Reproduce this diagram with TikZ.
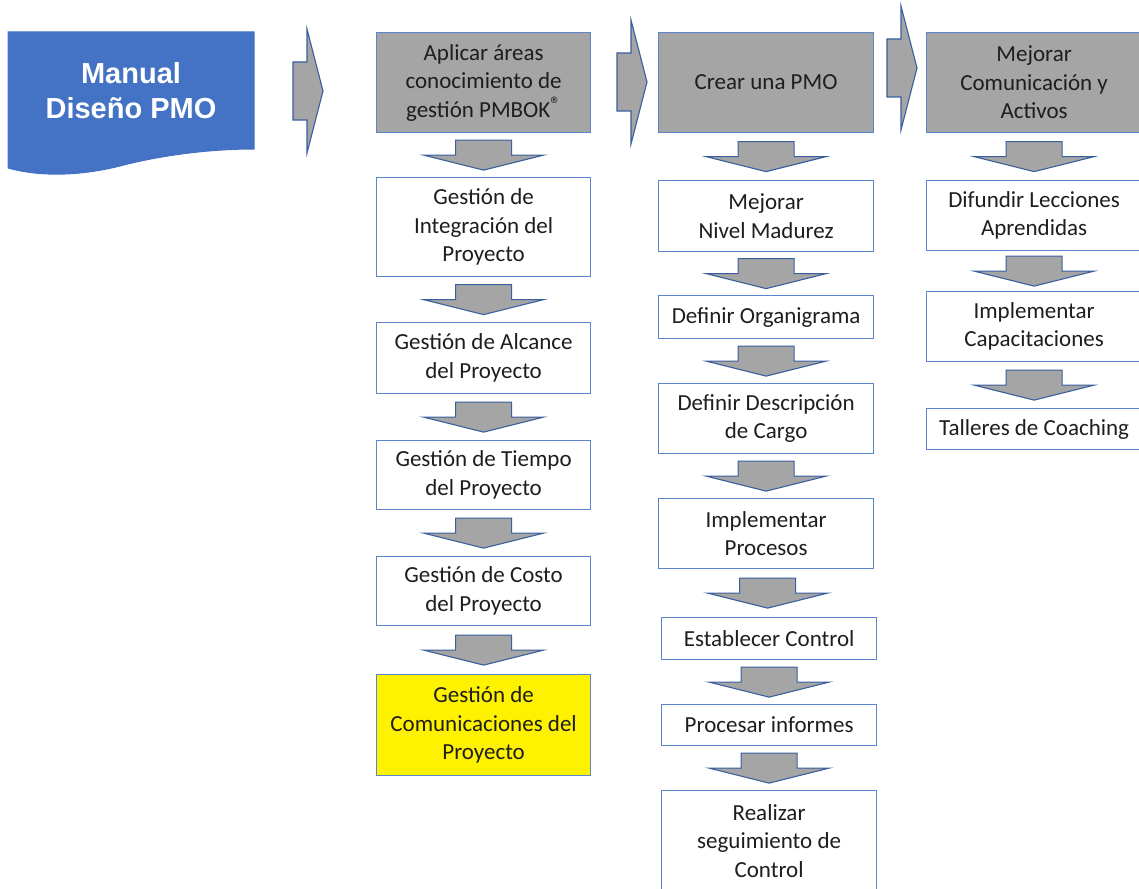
\documentclass[tikz,border=0pt]{standalone}
\usepackage{fontspec}
\setmainfont{Carlito}
\newfontfamily\titulofont{Liberation Sans}
\usetikzlibrary{calc}
\definecolor{azul}{HTML}{4472C4}
\definecolor{borde}{HTML}{5B86CF}
\definecolor{bordeflecha}{HTML}{3A5F9E}
\definecolor{gris}{HTML}{A5A5A5}
\definecolor{texto}{HTML}{1E1E1E}

% block arrow between two boxes of a column
\newcommand{\bajar}[2]{%
  \path ($(#1.south)!0.5!(#2.north)$) coordinate (m);
  \draw[flecha] (m) ++(-28,-15) -- ++(56,0) -- ++(0,15) -- ++(32,0)
    -- ++(-60,15) -- ++(-60,-15) -- ++(32,0) -- cycle;}
% block arrow pointing right, tail centre at (#1,#2)
\newcommand{\derecha}[2]{%
  \draw[flecha] (#1,#2) ++(0,-29) -- ++(14,0) -- ++(0,-33) -- ++(16,62)
    -- ++(-16,62) -- ++(0,-33) -- ++(-14,0) -- cycle;}

\begin{document}
\begin{tikzpicture}[x=1pt, y=-1pt,
    caja/.style={draw=borde, line width=1.2pt, fill=white, anchor=north west,
      inner sep=0pt, align=center, text=texto,
      font=\fontsize{23}{28.5}\selectfont},
    cabeza/.style={caja, fill=gris},
    flecha/.style={draw=bordeflecha, line width=1.1pt, fill=gris, line join=miter}]
    \useasboundingbox (0,0) rectangle (1139,888);
    % Manual
    \draw[fill=azul, draw=azul, line width=1pt] (8,32) -- (254,32) -- (254,149)
      .. controls (200,149) and (150,158) .. (120,166)
      .. controls (80,176) and (40,177) .. (8,168) -- cycle;
    \node (manual) [text=white, align=center,
      font=\titulofont\bfseries\fontsize{29}{35}\selectfont] at (131,91)
      {Manual\\Diseño PMO};
    % Right arrows
    \derecha{293}{91}
    \derecha{617}{82}
    \derecha{887}{68}
    % Column 1
    \node (pmbok) [cabeza, minimum width=214, minimum height=100] at (376,32)
      {Aplicar áreas\\conocimiento de\\gestión PMBOK\raisebox{0.55ex}{\fontsize{21}{21}\selectfont ®}};
    \node (integ) [caja, minimum width=214, minimum height=99] at (376,177)
      {Gestión de\\Integración del\\Proyecto};
    \node (alcance) [caja, minimum width=214, minimum height=71] at (376,322)
      {Gestión de Alcance\\del Proyecto};
    \node (tiempo) [caja, minimum width=214, minimum height=69] at (376,440)
      {Gestión de Tiempo\\del Proyecto};
    \node (costo) [caja, minimum width=214, minimum height=69] at (376,556)
      {Gestión de Costo\\del Proyecto};
    \node (comunic) [caja, fill=yellow, minimum width=214, minimum height=101] at (376,674)
      {Gestión de\\Comunicaciones del\\Proyecto};
    % Column 2
    \node (pmo) [cabeza, minimum width=215, minimum height=100] at (658,32)
      {Crear una PMO};
    \node (madurez) [caja, minimum width=215, minimum height=71] at (658,180)
      {Mejorar\\Nivel Madurez};
    \node (organi) [caja, minimum width=215, minimum height=43] at (658,295)
      {Definir Organigrama};
    \node (cargo) [caja, minimum width=215, minimum height=70] at (658,383)
      {Definir Descripción\\de Cargo};
    \node (procesos) [caja, minimum width=215, minimum height=70] at (658,498)
      {Implementar\\Procesos};
    \node (control) [caja, minimum width=215, minimum height=42] at (661,617)
      {Establecer Control};
    \node (informes) [caja, minimum width=215, minimum height=41] at (661,704)
      {Procesar informes};
    \node (seguim) [caja, minimum width=215, minimum height=100] at (661,790)
      {Realizar\\seguimiento de\\Control};
    % Column 3
    \node (activos) [cabeza, minimum width=215, minimum height=100] at (926,32)
      {Mejorar\\Comunicación y\\Activos};
    \node (lecciones) [caja, minimum width=215, minimum height=70] at (926,180)
      {Difundir Lecciones\\Aprendidas};
    \node (capacit) [caja, minimum width=215, minimum height=70] at (926,291)
      {Implementar\\Capacitaciones};
    \node (coaching) [caja, minimum width=215, minimum height=41] at (926,408)
      {Talleres de Coaching};
    % Down arrows
    \bajar{pmbok}{integ}
    \bajar{integ}{alcance}
    \bajar{alcance}{tiempo}
    \bajar{tiempo}{costo}
    \bajar{costo}{comunic}
    \bajar{pmo}{madurez}
    \bajar{madurez}{organi}
    \bajar{organi}{cargo}
    \bajar{cargo}{procesos}
    \bajar{procesos}{control}
    \bajar{control}{informes}
    \bajar{informes}{seguim}
    \bajar{activos}{lecciones}
    \bajar{lecciones}{capacit}
    \bajar{capacit}{coaching}
\end{tikzpicture}
\end{document}
